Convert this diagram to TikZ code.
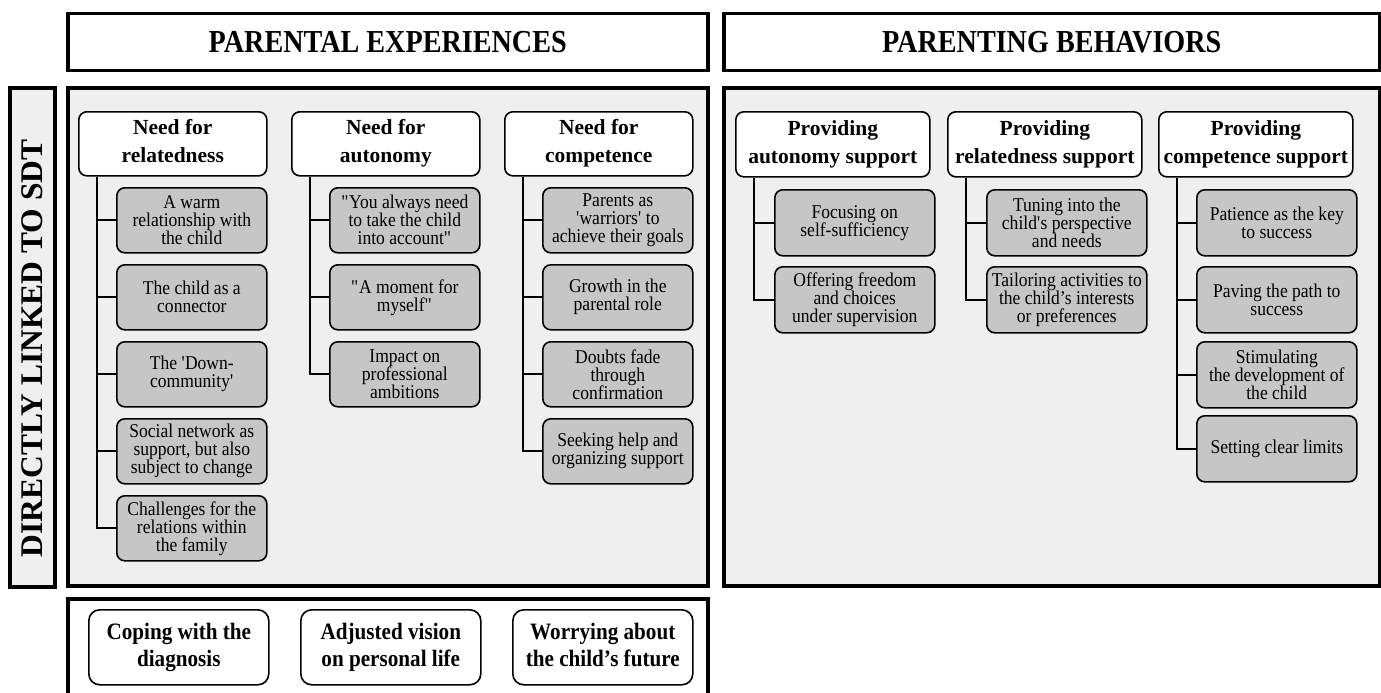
\documentclass[tikz,border=0pt]{standalone}
\usepackage{fontspec}
\setmainfont{Liberation Serif}
\newfontfamily\narrowserif{Liberation Serif}[FakeStretch=0.9]
\newfontfamily\titleserif{Liberation Serif}[FakeStretch=0.88]
\definecolor{panelgray}{HTML}{EFEFEF}
\definecolor{boxgray}{HTML}{C6C6C6}
\begin{document}
\begin{tikzpicture}[x=1pt,y=-1pt,
  thickbox/.style={draw=black, line width=3.5pt, anchor=north west, inner sep=0pt},
  titlebox/.style={thickbox, fill=white, minimum height=57pt, font=\titleserif\bfseries\fontsize{32}{32}\selectfont},
  panel/.style={thickbox, fill=panelgray},
  hdr/.style={draw=black, line width=1.6pt, rounded corners=8pt, fill=white, anchor=north west,
    inner sep=0pt, align=center, minimum height=64pt, font=\bfseries\fontsize{21.5}{28}\selectfont,
    execute at end node={\vphantom{gy}}},
  lhdr/.style={hdr, minimum width=188pt},
  rhdr/.style={hdr, minimum width=194pt, minimum height=65pt},
  gbox/.style={draw=black, line width=1.6pt, rounded corners=8pt, fill=boxgray, anchor=north west,
    inner sep=0pt, align=center, font=\narrowserif\fontsize{19.5}{18}\selectfont},
  lg/.style={gbox, minimum width=150pt, minimum height=65pt},
  rg/.style={gbox, minimum width=160pt, minimum height=66pt},
  bbox/.style={draw=black, line width=1.6pt, rounded corners=11pt, fill=white, anchor=north west,
    inner sep=0pt, align=center, minimum width=180pt, minimum height=75pt,
    font=\narrowserif\bfseries\fontsize{23.5}{27}\selectfont, execute at end node={\vphantom{gy}}},
  tree/.style={draw=black, line width=1.7pt}
]
\useasboundingbox (0,0) rectangle (1381,693);

% titles
\node[titlebox, minimum width=640pt] (t1) at (66,12) {PARENTAL EXPERIENCES};
\node[titlebox, minimum width=656pt] (t2) at (722,12) {PARENTING BEHAVIORS};

% side label
\node[panel, minimum width=45pt, minimum height=499pt] (lab) at (8,86) {};
\node[rotate=90, font=\bfseries\fontsize{31.5}{31.5}\selectfont] (labtext) at ([yshift=-11pt]lab.center) {DIRECTLY LINKED TO SDT};

% panels
\node[panel, minimum width=640pt, minimum height=498pt] (p1) at (66,86) {};
\node[panel, minimum width=656pt, minimum height=498pt] (p2) at (722,86) {};
\begin{scope}
\clip (0,0) rectangle (1381,693);
\node[thickbox, fill=white, minimum width=640pt, minimum height=120pt] (p3) at (66,597) {};
\end{scope}

% left headers
\node[lhdr] (h1) at (78,111) {Need for\\relatedness};
\node[lhdr] (h2) at (291,111) {Need for\\autonomy};
\node[lhdr] (h3) at (504,111) {Need for\\competence};

% left gray boxes
\node[lg] (g11) at (116,187) {A warm\\relationship with\\the child};
\node[lg] (g12) at (116,264) {The child as a\\connector};
\node[lg] (g13) at (116,341) {The \textquotesingle Down-\\community\textquotesingle};
\node[lg] (g14) at (116,418) {Social network as\\support, but also\\subject to change};
\node[lg] (g15) at (116,495) {Challenges for the\\relations within\\the family};

\node[lg] (g21) at (329,187) {\textquotedbl You always need\\to take the child\\into account\textquotedbl};
\node[lg] (g22) at (329,264) {\textquotedbl A moment for\\myself\textquotedbl};
\node[lg] (g23) at (329,341) {Impact on\\professional\\ambitions};

\node[lg] (g31) at (542,187) {Parents as\\\textquotesingle warriors\textquotesingle{} to\\achieve their goals};
\node[lg] (g32) at (542,264) {Growth in the\\parental role};
\node[lg] (g33) at (542,341) {Doubts fade\\through\\confirmation};
\node[lg] (g34) at (542,418) {Seeking help and\\organizing support};

% right headers
\node[rhdr] (r1) at (735,111) {Providing\\autonomy support};
\node[rhdr] (r2) at (947,111) {Providing\\relatedness support};
\node[rhdr] (r3) at (1158,111) {Providing\\competence support};

% right gray boxes
\node[rg] (s11) at (774,189) {Focusing on\\self-sufficiency};
\node[rg] (s12) at (774,266) {Offering freedom\\and choices\\under supervision};
\node[rg] (s21) at (986,189) {Tuning into the\\child\textquotesingle s perspective\\and needs};
\node[rg] (s22) at (986,266) {Tailoring activities to\\the child’s interests\\or preferences};
\node[rg] (s31) at (1196,189) {Patience as the key\\to success};
\node[rg] (s32) at (1196,266) {Paving the path to\\success};
\node[rg] (s33) at (1196,341) {Stimulating\\the development of\\the child};
\node[rg] (s34) at (1196,415) {Setting clear limits};

% bottom boxes
\node[bbox] (b1) at (88,609) {Coping with the\\diagnosis};
\node[bbox] (b2) at (300,609) {Adjusted vision\\on personal life};
\node[bbox] (b3) at (512,609) {Worrying about\\the child’s future};

% tree connectors
\foreach \h/\last/\kids in {h1/g15/{g11,g12,g13,g14,g15}, h2/g23/{g21,g22,g23}, h3/g34/{g31,g32,g33,g34},
                            r1/s12/{s11,s12}, r2/s22/{s21,s22}, r3/s34/{s31,s32,s33,s34}} {
  \draw[tree] ([xshift=19pt]\h.south west) |- (\last.west);
  \foreach \k in \kids {
    \draw[tree] ([xshift=19pt]\h.south west |- \k.west) -- (\k.west);
  }
}
\end{tikzpicture}
\end{document}
